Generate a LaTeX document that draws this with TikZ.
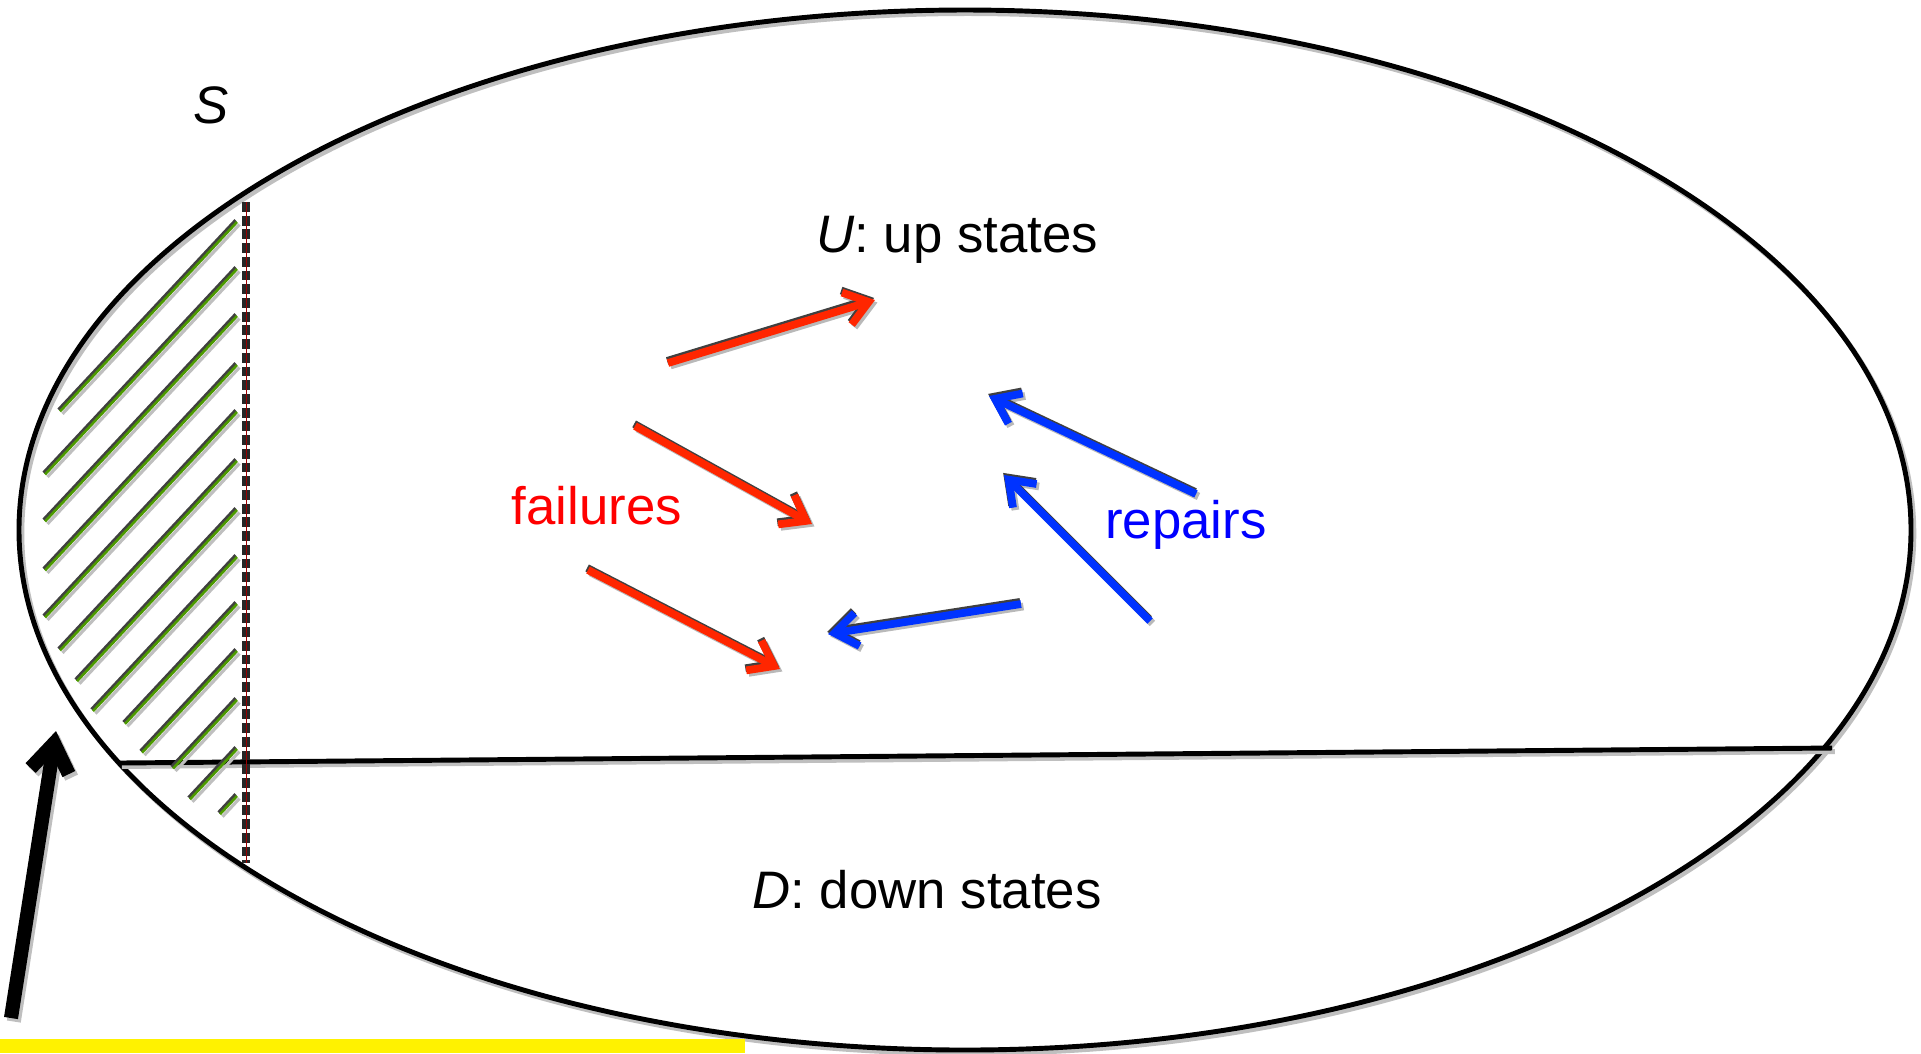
\documentclass[tikz,border=0pt]{standalone}
\usepackage{fontspec}
\setmainfont{Liberation Sans}
\usetikzlibrary{arrows.meta}

\definecolor{failred}{RGB}{255,38,0}
\definecolor{repblue}{RGB}{0,51,255}
\definecolor{hatchgreen}{RGB}{76,153,0}

\tikzset{
  lbl/.style={inner sep=0pt, anchor=base, font=\fontsize{15}{18}\selectfont},
  trans/.style={line width=2.2pt, -{Straight Barb[length=6.5pt,width=9.5pt]}},
  rim/.style={line width=1.4pt},
  shade/.style={gray!50, transform canvas={xshift=0.8pt,yshift=-1pt}},
}

\begin{document}
\begin{tikzpicture}[x=0.01cm, y=-0.01cm]
\useasboundingbox (0,0) rectangle (1921,1053);

% state space and the cut between up and down states
\draw[rim, shade] (965,530) ellipse [x radius=946, y radius=520];
\draw[rim] (965,530) ellipse [x radius=946, y radius=520];
\coordinate (cutL) at (119,763);
\coordinate (cutR) at (1832,748);
\draw[rim, shade] (cutL) -- (cutR);
\draw[rim] (cutL) -- (cutR);

% hatched strip
\foreach \yr/\xl in {222/60, 269/45, 316/45, 365/45, 412/45, 461/60, 510/77,
                     557/93, 604/125, 651/142, 700/173, 749/190, 796/220}{
  \coordinate (hR) at (237,\yr);
  \coordinate (hL) at ({\xl},{\yr+1.07*(237-\xl)});
  \draw[line width=0.9pt, gray!50, transform canvas={xshift=0.7pt,yshift=-0.7pt}] (hR) -- (hL);
  \draw[line width=0.9pt, black!75, transform canvas={xshift=-0.4pt,yshift=0.5pt}] (hR) -- (hL);
  \draw[line width=0.75pt, hatchgreen] (hR) -- (hL);
}
\coordinate (sepT) at (246,202);
\coordinate (sepB) at (246,863);
\draw[black!85, line width=2pt, dash pattern=on 2.8pt off 1.1pt] (sepT) -- (sepB);
\draw[red!60!black, line width=0.15pt] (sepT) -- (sepB);

% pointer from below
\coordinate (ptrA) at (11,1018);
\coordinate (ptrB) at (56,731);
\draw[line width=4pt, -{Straight Barb[length=8pt,width=11pt]}, shade] (ptrA) -- (ptrB);
\draw[line width=4pt, -{Straight Barb[length=8pt,width=11pt]}] (ptrA) -- (ptrB);
\fill[yellow] (0,1039) rectangle (745,1053);

% transitions
\coordinate (f1a) at (668,363); \coordinate (f1b) at (875,300);
\coordinate (f2a) at (635,426); \coordinate (f2b) at (812,524);
\coordinate (f3a) at (588,570); \coordinate (f3b) at (780,669);
\coordinate (r1a) at (1196,494); \coordinate (r1b) at (989,396);
\coordinate (r2a) at (1150,621); \coordinate (r2b) at (1004,475);
\coordinate (r3a) at (1021,604); \coordinate (r3b) at (828,634);
\foreach \a/\b/\c in {f1a/f1b/failred, f2a/f2b/failred, f3a/f3b/failred,
                      r1a/r1b/repblue, r2a/r2b/repblue, r3a/r3b/repblue}{
  \draw[trans, gray!55, transform canvas={xshift=0.7pt,yshift=-0.7pt}] (\a) -- (\b);
  \draw[trans, black!75, transform canvas={xshift=-0.25pt,yshift=0.6pt}] (\a) -- (\b);
  \draw[trans, \c] (\a) -- (\b);
}

% labels
\node[lbl] (setS) at (211,123) {\textit{S}};
\node[lbl] (upU) at (957,252) {\textit{U}: up states};
\node[lbl] (downD) at (927,908) {\textit{D}: down states};
\node[lbl, red] (failLbl) at (597,524) {failures};
\node[lbl, blue] (repLbl) at (1186,538) {repairs};
\end{tikzpicture}
\end{document}
